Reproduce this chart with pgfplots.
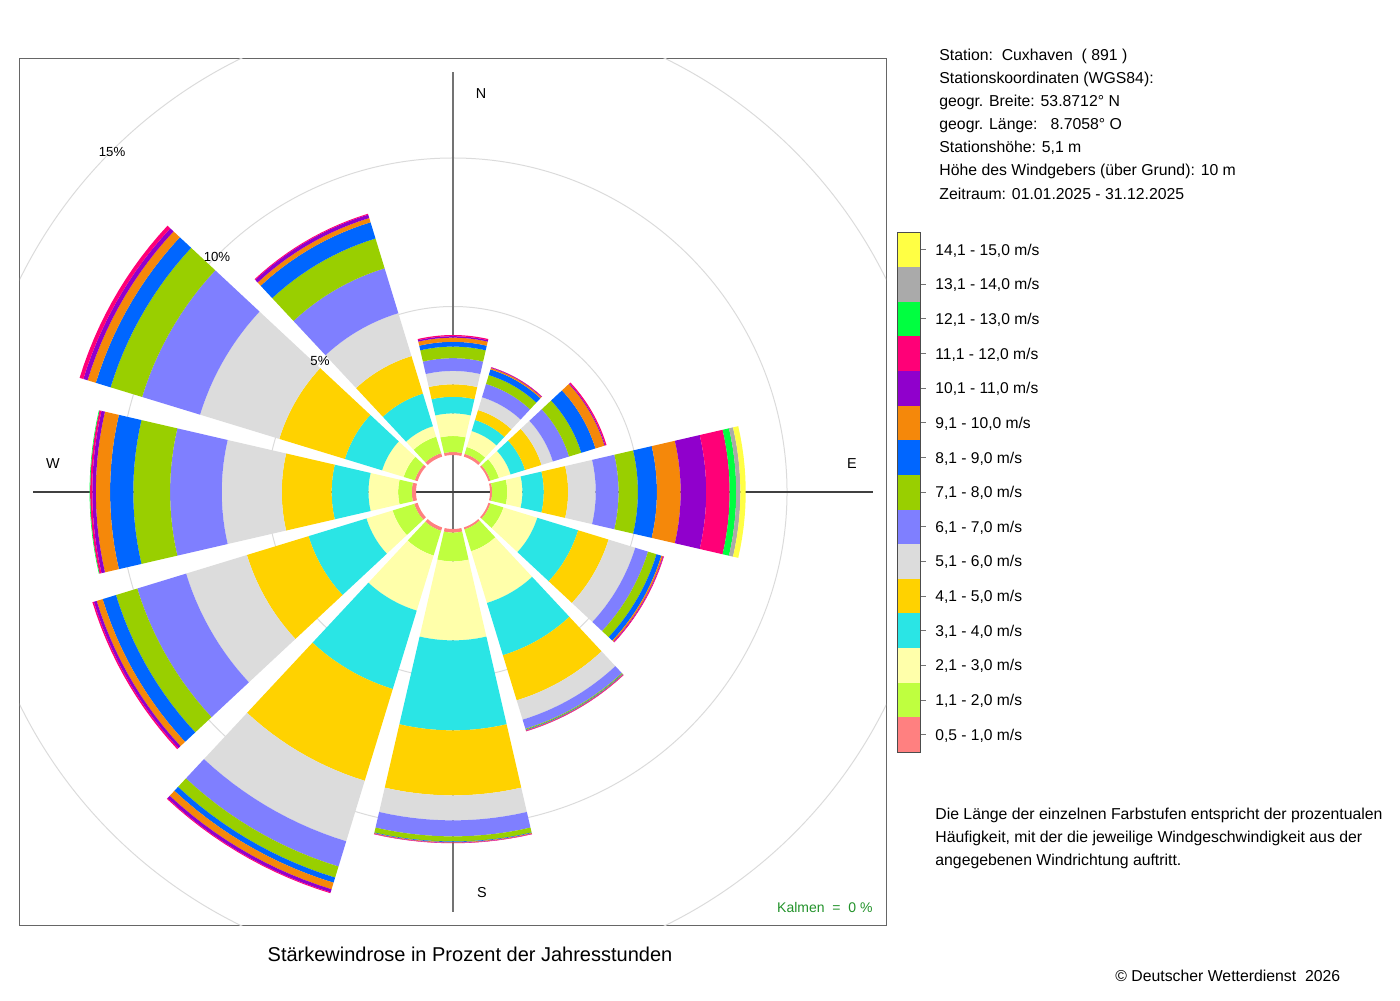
\documentclass[border=0pt]{standalone}
\usepackage{pgfplots}
\pgfplotsset{compat=1.18}
\usepackage{pgfplotstable}
\usepackage{fontspec}
\setmainfont{Liberation Sans}

\definecolor{k1}{HTML}{FF8080}
\definecolor{k2}{HTML}{BFFF3F}
\definecolor{k3}{HTML}{FFFFAA}
\definecolor{k4}{HTML}{2AE5E5}
\definecolor{k5}{HTML}{FFD200}
\definecolor{k6}{HTML}{DCDCDC}
\definecolor{k7}{HTML}{7F7FFF}
\definecolor{k8}{HTML}{99CF00}
\definecolor{k9}{HTML}{0066FF}
\definecolor{k10}{HTML}{F5880A}
\definecolor{k11}{HTML}{9000CC}
\definecolor{k12}{HTML}{FF0077}
\definecolor{k13}{HTML}{00FF40}
\definecolor{k14}{HTML}{AAAAAA}
\definecolor{k15}{HTML}{FFFF44}
\definecolor{kalm}{HTML}{22922A}

% cumulative percentages per direction (compass degrees), classes 0,5-1,0 ... 14,1-15,0 m/s
\pgfplotstableread{
dir c1 c2 c3 c4 c5 c6 c7 c8 c9 c10 c11 c12 c13 c14 c15
0   0.10 0.64 1.40 1.96 2.38 2.83 3.26 3.65 3.81 3.95 4.00 4.04 4.04 4.04 4.04
30  0.10 0.34 0.90 1.29 1.64 2.09 2.56 2.87 3.07 3.12 3.14 3.15 3.15 3.15 3.15
60  0.07 0.37 0.78 1.29 1.87 2.27 2.84 3.27 3.77 4.09 4.12 4.16 4.16 4.16 4.16
90  0.07 0.58 1.09 1.81 2.63 3.56 4.33 4.98 5.62 6.42 7.28 8.07 8.29 8.43 8.61
120 0.07 0.53 1.72 3.16 4.23 5.17 5.62 5.92 6.09 6.14 6.16 6.18 6.18 6.18 6.18
150 0.07 0.84 2.66 4.50 6.09 6.77 7.09 7.12 7.14 7.16 7.17 7.18 7.18 7.18 7.18
180 0.12 1.09 3.75 6.78 8.97 9.81 10.35 10.52 10.54 10.56 10.57 10.58 10.58 10.58 10.58
210 0.12 0.99 2.93 5.69 8.92 11.05 11.94 12.33 12.51 12.74 12.85 12.88 12.88 12.88 12.88
240 0.12 0.88 1.80 3.84 6.01 8.15 9.87 10.62 11.09 11.30 11.40 11.45 11.45 11.45 11.45
270 0.14 0.60 1.60 2.84 4.52 6.54 8.28 9.52 10.30 10.78 10.90 10.97 10.99 10.99 10.99
300 0.10 0.49 1.25 2.56 4.87 7.66 9.70 10.81 11.33 11.62 11.77 11.90 11.90 11.90 11.90
330 0.12 0.70 1.07 2.22 3.54 5.05 6.63 7.68 8.25 8.40 8.52 8.55 8.55 8.55 8.55
}\rose

\def\hole{1.246}

\begin{document}
\begin{tikzpicture}
\begin{scope}[x=0.5pt,y=-0.5pt]
\path[use as bounding box] (0,0) rectangle (1400,1000);
\end{scope}

\begin{axis}[at={(226.5pt,-246pt)}, anchor=center, scale only axis,
  width=433pt, height=433pt,
  xmin=-14.579, xmax=14.579, ymin=-14.579, ymax=14.579,
  xtick=\empty, ytick=\empty,
  axis line style={draw=black!60, line width=0.5pt}]

% grid circles
\draw[black!14, line width=0.5pt] (axis cs:0,0) circle [radius=6.246];
\draw[black!14, line width=0.5pt] (axis cs:0,0) circle [radius=11.246];
\draw[black!14, line width=0.5pt] (axis cs:0,0) circle [radius=16.246];
% cross lines
\draw[black!55, line width=0.6pt] (axis cs:0,-14.14) -- (axis cs:0,14.14);
\draw[black!75, line width=0.6pt] (axis cs:-14.14,0) -- (axis cs:14.14,0);

% wind rose sectors
\foreach \i in {0,...,11} {
  \pgfplotstablegetelem{\i}{dir}\of\rose
  \pgfmathsetmacro\phi{90-\pgfplotsretval}
  \xdef\phiG{\phi}
  \xdef\prev{0}
  \foreach \k in {1,...,15} {
    \pgfplotstablegetelem{\i}{c\k}\of\rose
    \let\cur\pgfplotsretval
    \ifdim\cur pt>\prev pt
      \pgfmathsetmacro\rin{\hole+\prev}
      \pgfmathsetmacro\rout{\hole+\cur}
      \gdef\pts{}
      \foreach \a in {-13,-11,...,13} {\pgfmathsetmacro\ang{\phiG+\a}\xdef\pts{\pts(\ang,\rout)}}
      \foreach \a in {13,11,...,-13} {\pgfmathsetmacro\ang{\phiG+\a}\xdef\pts{\pts(\ang,\rin)}}
      \edef\temp{\noexpand\addplot[fill=k\k, draw=none, data cs=polar, forget plot] coordinates {\pts};}
      \temp
    \fi
    \xdef\prev{\cur}
  }
}

% labels
\node[font=\fontsize{7.2pt}{8pt}\selectfont] at (axis cs:0.943,13.40) {N};
\node[font=\fontsize{7.2pt}{8pt}\selectfont] at (axis cs:13.43,0.943) {E};
\node[font=\fontsize{7.2pt}{8pt}\selectfont] at (axis cs:0.976,-13.47) {S};
\node[font=\fontsize{7.2pt}{8pt}\selectfont] at (axis cs:-13.47,0.943) {W};
\node[font=\fontsize{6.6pt}{8pt}\selectfont] at (axis cs:-4.478,4.411) {5\%};
\node[font=\fontsize{6.6pt}{8pt}\selectfont] at (axis cs:-7.946,7.912) {10\%};
\node[font=\fontsize{6.6pt}{8pt}\selectfont] at (axis cs:-11.48,11.45) {15\%};
\node[font=\fontsize{7pt}{8pt}\selectfont, text=kalm, anchor=east, inner sep=0pt] at (axis cs:14.14,-14.0) {Kalmen\ \ =\ \ 0 \%};
\end{axis}

\begin{scope}[x=0.5pt,y=-0.5pt]
% title
\node[font=\fontsize{10pt}{11pt}\selectfont, inner sep=0pt] at (470,954) {Stärkewindrose in Prozent der Jahresstunden};
% station info
\begin{scope}[every node/.style={anchor=base west, inner sep=0pt, font=\fontsize{7.9pt}{9.5pt}\selectfont}]
\node at (939,60.5) {Station:\ \ Cuxhaven\ \ ( 891 )};
\node at (939,83.5) {Stationskoordinaten (WGS84):};
\node at (939,106.5) {geogr. Breite: 53.8712° N};
\node at (939,130) {geogr. Länge:\ \ \ 8.7058° O};
\node at (939,153) {Stationshöhe: 5,1 m};
\node at (939,176) {Höhe des Windgebers (über Grund): 10 m};
\node at (939,199.5) {Zeitraum: 01.01.2025 - 31.12.2025};
\node at (935,819.5) {Die Länge der einzelnen Farbstufen entspricht der prozentualen};
\node at (935,842.5) {Häufigkeit, mit der die jeweilige Windgeschwindigkeit aus der};
\node at (935,865.5) {angegebenen Windrichtung auftritt.};
\node at (1115,981.5) {© Deutscher Wetterdienst\ \ 2026};
\end{scope}
% colour legend
\foreach \i/\lab in {1/{0,5 - 1,0 m/s},2/{1,1 - 2,0 m/s},3/{2,1 - 3,0 m/s},4/{3,1 - 4,0 m/s},5/{4,1 - 5,0 m/s},6/{5,1 - 6,0 m/s},7/{6,1 - 7,0 m/s},8/{7,1 - 8,0 m/s},9/{8,1 - 9,0 m/s},10/{9,1 - 10,0 m/s},11/{10,1 - 11,0 m/s},12/{11,1 - 12,0 m/s},13/{12,1 - 13,0 m/s},14/{13,1 - 14,0 m/s},15/{14,1 - 15,0 m/s}} {
  \pgfmathsetmacro\yt{232.3+(15-\i)*34.65}
  \fill[k\i] (897,\yt) rectangle (920,\yt+34.65);
  \draw[black!55, line width=0.5pt] (920,\yt+17.3) -- (926,\yt+17.3);
  \node[anchor=base west, inner sep=0pt, font=\fontsize{7.8pt}{9.5pt}\selectfont] at (935,\yt+22.8) {\lab};
}
\draw[black!70, line width=0.5pt] (897,232.3) rectangle (920,752);
\end{scope}
\end{tikzpicture}
\end{document}
